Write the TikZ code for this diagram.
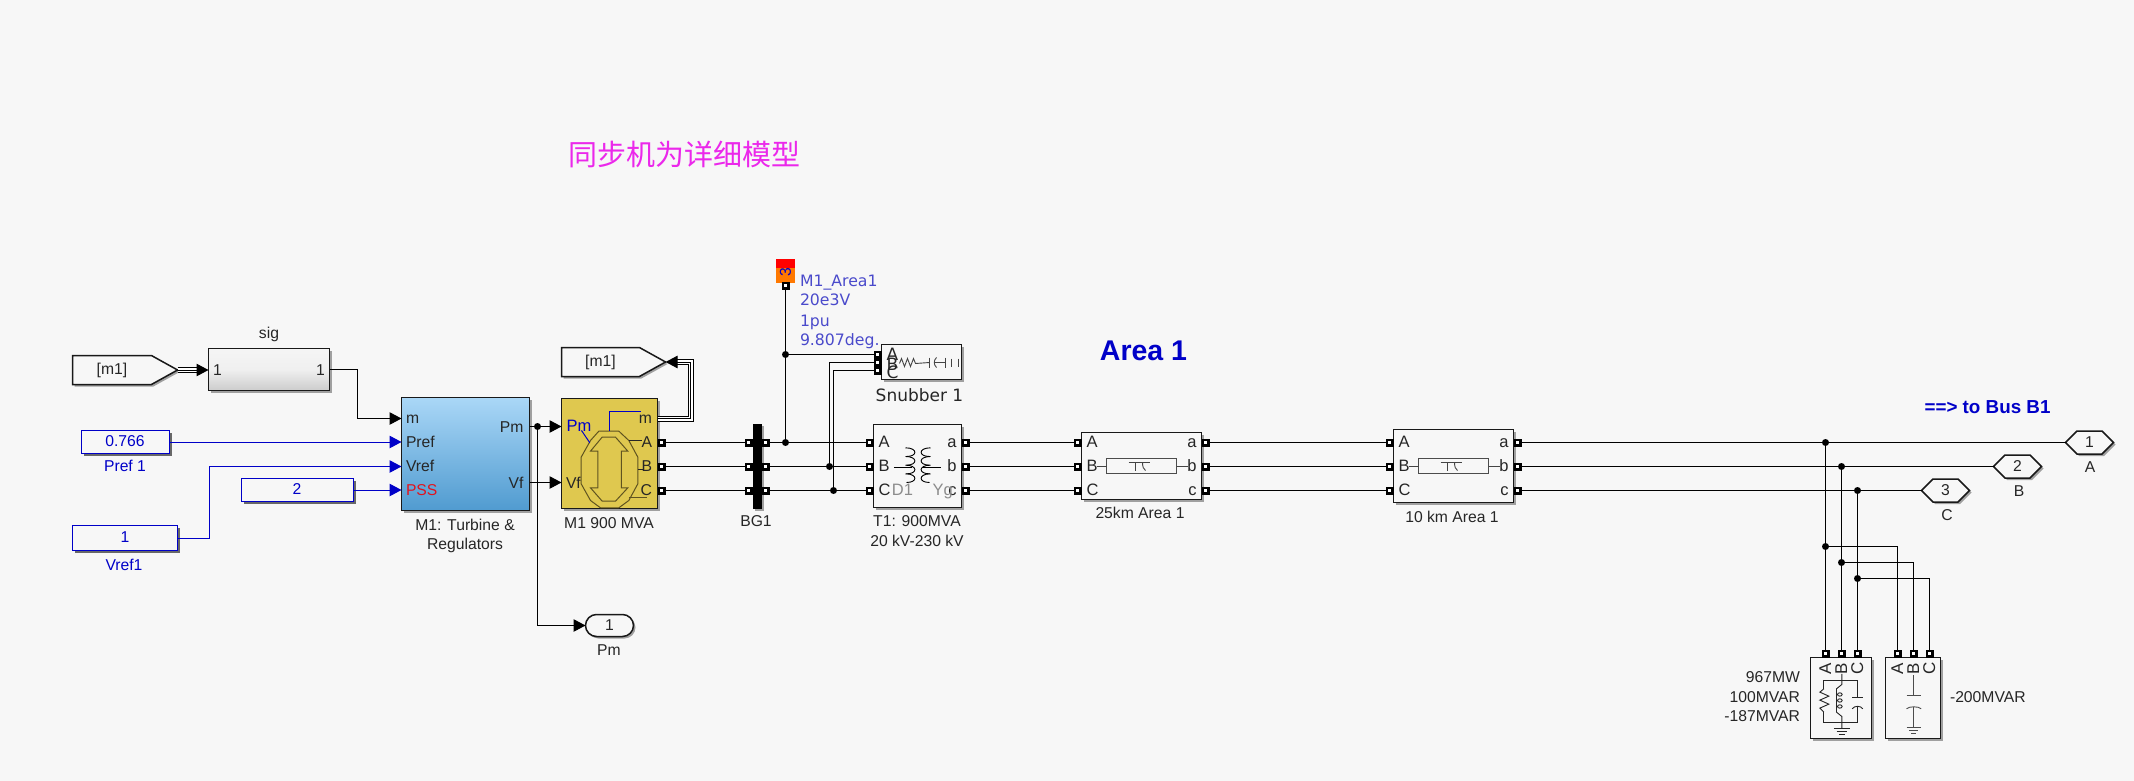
\documentclass[tikz,border=0pt]{standalone}
\usepackage{fontspec}
\setmainfont{Liberation Sans}
\newfontfamily\dvfont{DejaVu Sans}
\newfontfamily\cjkfont{Noto Sans CJK SC}
\usetikzlibrary{arrows.meta,shapes.symbols,shapes.misc,shadows}
\definecolor{bgc}{HTML}{F7F7F7}
\definecolor{txtc}{HTML}{262626}
\definecolor{blueline}{HTML}{0000C8}
\definecolor{meastxt}{HTML}{4A4ACB}
\definecolor{gold}{HTML}{DFC84F}
\definecolor{olive}{HTML}{5F5320}
\definecolor{icongray}{HTML}{444444}
\tikzset{
  x=1pt,y=-1pt,
  sh/.style={drop shadow={shadow xshift=2pt,shadow yshift=-2pt,fill=black,opacity=.35}},
  blockbox/.style={draw=black!90,line width=1.5pt,fill=bgc,inner sep=0pt,outer sep=0pt,sh},
  constbox/.style={blockbox,draw=blueline},
  txt/.style={inner sep=0pt,outer sep=0pt,text=txtc,font=\fontsize{15.7}{18}\selectfont,text height=11.2pt,text depth=0pt},
  bluetxt/.style={txt,text=blueline},
  lab/.style={txt,font=\fontsize{16.5}{18}\selectfont},
  meastext/.style={txt,anchor=west,text=meastxt,font=\dvfont\fontsize{15.7}{17}\selectfont},
  dvtxt/.style={txt,font=\dvfont\fontsize{17}{18}\selectfont},
  port/.style={rectangle,fill=black,minimum size=8pt,inner sep=0pt,outer sep=0pt,
     path picture={\fill[white] (-1.1pt,-1.1pt) rectangle (1.1pt,1.1pt);}},
  dot/.style={circle,fill=black,minimum size=7pt,inner sep=0pt,outer sep=0pt},
  wire/.style={draw=black,line width=1pt},
  sigarrow/.style={wire,-{Triangle[length=12pt,width=12.5pt]}},
  bluearrow/.style={draw=blueline,line width=1pt,-{Triangle[length=12pt,width=12.5pt]}},
  buswire/.style={draw=black,line width=6pt,postaction={draw=white,line width=4pt}},
  tag/.style={signal,draw=black!90,line width=1.5pt,fill=bgc,inner sep=0pt,outer sep=0pt,sh,text=txtc,font=\fontsize{15.7}{18}\selectfont},
  icon/.style={draw=icongray,line width=.9pt},
  oliveline/.style={draw=olive,line width=1pt},
}
\newcommand{\blk}[6][]{%
  \pgfmathsetmacro{\bcx}{(#3+#5)/2}\pgfmathsetmacro{\bcy}{(#4+#6)/2}%
  \pgfmathsetmacro{\bw}{#5-#3}\pgfmathsetmacro{\bh}{#6-#4}%
  \node[blockbox,minimum width=\bw pt,minimum height=\bh pt,#1] (#2) at (\bcx,\bcy) {};}
\newcommand{\prt}[3]{\node[port] (#1) at (#2,#3) {};}
\begin{document}
\begin{tikzpicture}
\useasboundingbox (0,0) rectangle (2134,781);
\fill[bgc] (0,0) rectangle (2134,781);
\begin{scope}[shift={(.5,.5)}]
% title texts
\node[inner sep=0pt,text={rgb,255:red,235;green,40;blue,235},font=\cjkfont\fontsize{29}{32}\selectfont] (title) at (683.5,153.5) {同步机为详细模型};
\node[inner sep=0pt,text=blueline,font=\bfseries\fontsize{28.5}{30}\selectfont] (area) at (1143,350) {Area 1};
\node[inner sep=0pt,text=blueline,font=\bfseries\fontsize{18.8}{20}\selectfont] (tobus) at (1987,407) {==> to Bus B1};

% ---------- left signal blocks
\node[tag,signal to=east,signal from=nowhere,signal pointer angle=58,minimum width=105pt,minimum height=29pt] (fromm) at (111.5,369.5) {[m1]};
\blk[top color=white!96!black,bottom color=black!20,middle color=black!6]{sig}{208}{348}{329}{390}
\node[txt] at (217,369.5) {1};
\node[txt] at (320,369.5) {1};
\node[txt] at (268.5,332.5) {sig};

\blk[constbox]{cA}{81}{430}{169}{453}
\node[bluetxt] at (124.5,440) {0.766};
\node[bluetxt] at (124.5,465.5) {Pref 1};
\blk[constbox]{cB}{241}{478}{353}{501}
\node[bluetxt] at (296.5,488) {2};
\blk[constbox]{cC}{72}{525}{177}{550}
\node[bluetxt] at (124.5,536.5) {1};
\node[bluetxt] at (123.5,564) {Vref1};

% turbine block
\blk[top color={rgb,255:red,170;green,215;blue,247},bottom color={rgb,255:red,80;green,155;blue,208}]{turb}{401}{397}{529}{510}
\node[txt,anchor=west] at (405.5,417.5) {m};
\node[txt,anchor=west] at (405.5,441.5) {Pref};
\node[txt,anchor=west] at (405.5,465.5) {Vref};
\node[txt,anchor=west,text={rgb,255:red,225;green,20;blue,30}] at (405.5,489.5) {PSS};
\node[txt,anchor=east] at (523,426) {Pm};
\node[txt,anchor=east] at (523,482) {Vf};
\node[txt] at (464.5,524.5) {M1: Turbine \&};
\node[txt] at (464.5,543.5) {Regulators};
\coordinate (tm) at (401,418);
\coordinate (tpref) at (401,441.5);
\coordinate (tvref) at (401,466);
\coordinate (tpss) at (401,489.5);
\coordinate (tpm) at (529,426);
\coordinate (tvf) at (529,482);

% generator
\blk[fill=gold]{gen}{561}{398}{657}{508}
\coordinate (genpm) at (561,426);
\coordinate (genvf) at (561,482);
\coordinate (genm) at (657,418);
\begin{scope}[shift={(540,380)},x=.3333pt,y=-.3333pt]
  \draw[oliveline] (175,152)--(235,152)--(265,180)--(292,230)--(292,310)--(265,360)--(235,382)--(180,382)--(150,360)--(122,310)--(122,230)--(150,180)--cycle;
  \draw[oliveline] (185,170)--(225,170)--(262,212)--(243,212)--(243,322)--(262,322)--(225,362)--(185,362)--(150,322)--(172,322)--(172,212)--(150,212)--cycle;
  \draw[oliveline,black!85] (265,180)--(305,180);
  \draw[oliveline,black!85] (292,266)--(308,266);
  \draw[oliveline] (265,352)--(320,352);
  \draw[draw=blueline,line width=1pt] (123,150)--(148,187);
  \draw[draw=blueline,line width=1pt] (208,152)--(208,94)--(302,94);
\end{scope}
\node[bluetxt,font=\fontsize{16.5}{18}\selectfont,anchor=west] at (566,425) {Pm};
\node[txt,anchor=west] at (565.5,482) {Vf};
\node[txt,anchor=east] at (651.5,417) {m};
\node[txt,anchor=east] at (651.5,441) {A};
\node[txt,anchor=east] at (651.5,465) {B};
\node[txt,anchor=east] at (651.5,489) {C};
\node[txt] at (608.5,522) {M1 900 MVA};
\prt{gA}{661}{442}\prt{gB}{661}{466}\prt{gC}{661}{490}

\node[tag,signal to=east,signal from=nowhere,signal pointer angle=58,minimum width=104pt,minimum height=29pt] (gotom) at (600,361.5) {[m1]};

% busbar BG1
\node[rectangle,fill=black,minimum width=9pt,minimum height=85pt,inner sep=0pt,outer sep=0pt,sh] (bg) at (756.5,465.5) {};
\prt{bLA}{748}{442}\prt{bLB}{748}{466}\prt{bLC}{748}{490}
\prt{bRA}{765}{442}\prt{bRB}{765}{466}\prt{bRC}{765}{490}
\node[txt] at (755.5,520.5) {BG1};

% measurement block
\node[rectangle,fill={rgb,255:red,255;green,120;blue,0},minimum width=19pt,minimum height=24pt,inner sep=0pt,outer sep=0pt] (meas) at (784.5,270) {};
\fill[red] (775,258) rectangle (794,267);
\node[text=blueline,inner sep=0pt,rotate=90,font=\fontsize{15.7}{16}\selectfont] at (785,272) {3};
\prt{mp}{785}{285}
\node[meastext] at (799.5,280.5) {M1\_Area1};
\node[meastext] at (799.5,299.5) {20e3V};
\node[meastext] at (799.5,320) {1pu};
\node[meastext] at (799.5,339.5) {9.807deg.};

% snubber
\blk{snub}{881}{344}{961}{379}
\prt{sA}{877}{354}\prt{sB}{877}{362}\prt{sC}{877}{370}
\node[dvtxt] at (892,354) {A};
\node[dvtxt] at (892,364) {B};
\node[dvtxt] at (892,372) {C};
\draw[icon] (899,363)--(901,358)--(904,366)--(907,358)--(910,366)--(913,358)--(915,363)--(929,362);
\draw[icon] (929,357)--(929,367);
\draw[icon] (936,357) .. controls (933,360) and (933,364) .. (936,367);
\draw[icon] (934,362)--(945,362);
\draw[icon] (945,357)--(945,367);
\draw[icon] (951,358)--(951,366);
\draw[icon] (958,358)--(958,366);
\node[dvtxt] at (919,395) {Snubber 1};

% transformer
\blk{tr}{873}{424}{961}{507}
\prt{tLA}{869}{442}\prt{tLB}{869}{466}\prt{tLC}{869}{490}
\prt{tRA}{965}{442}\prt{tRB}{965}{466}\prt{tRC}{965}{490}
\node[lab,anchor=west] at (878,441) {A};
\node[lab,anchor=west] at (878,465) {B};
\node[lab,anchor=west] at (878,489) {C};
\node[lab,anchor=east] at (956,441) {a};
\node[lab,anchor=east] at (956,465) {b};
\node[lab,anchor=east] at (956,489) {c};
\node[lab,text=black!45] at (902,489) {D1};
\node[lab,text=black!45,anchor=west] at (932,489) {Yg};
\begin{scope}[shift={(870,420)},x=.3333pt,y=-.3333pt]
  \draw[icon,black] (70,140)--(125,140);
  \draw[icon,black] (155,140)--(212,140);
  \foreach \i in {0,1,2,3} {
    \pgfmathsetmacro{\ya}{82+\i*26}\pgfmathsetmacro{\yb}{82+(\i+1)*26}
    \draw[icon,black] (105,\ya) .. controls (142,\ya) and (142,\yb) .. (108,\yb);
    \draw[icon,black] (180,\ya) .. controls (143,\ya) and (143,\yb) .. (177,\yb);
  }
\end{scope}
\node[txt] at (916.5,520.5) {T1: 900MVA};
\node[txt] at (916.5,540.5) {20 kV-230 kV};

% lines
\blk{la}{1081}{432}{1201}{499}
\prt{laLA}{1077}{442}\prt{laLB}{1077}{466}\prt{laLC}{1077}{490}
\prt{laRA}{1205}{442}\prt{laRB}{1205}{466}\prt{laRC}{1205}{490}
\node[lab,anchor=west] at (1086,441.5) {A};
\node[lab,anchor=west] at (1086,465.5) {B};
\node[lab,anchor=west] at (1086,489) {C};
\node[lab,anchor=east] at (1196,441.5) {a};
\node[lab,anchor=east] at (1196,465.5) {b};
\node[lab,anchor=east] at (1196,489) {c};
\draw[icon,black!70,line width=1.2pt] (1106,458) rectangle (1176,473);
\draw[icon] (1096,466)--(1106,466) (1176,466)--(1187,466);
\draw[icon] (1128,462)--(1149,462) (1135,462)--(1135,470);
\draw[icon] (1142,462) .. controls (1142,466) and (1143,469) .. (1145,470);
\node[txt] at (1139.5,512.5) {25km Area 1};

\blk{lb}{1393}{429}{1513}{502}
\prt{lbLA}{1389}{442}\prt{lbLB}{1389}{466}\prt{lbLC}{1389}{490}
\prt{lbRA}{1517}{442}\prt{lbRB}{1517}{466}\prt{lbRC}{1517}{490}
\node[lab,anchor=west] at (1398,441.5) {A};
\node[lab,anchor=west] at (1398,465.5) {B};
\node[lab,anchor=west] at (1398,489) {C};
\node[lab,anchor=east] at (1508,441.5) {a};
\node[lab,anchor=east] at (1508,465.5) {b};
\node[lab,anchor=east] at (1508,489) {c};
\draw[icon,black!70,line width=1.2pt] (1418,458) rectangle (1488,473);
\draw[icon] (1408,466)--(1418,466) (1488,466)--(1499,466);
\draw[icon] (1440,462)--(1461,462) (1447,462)--(1447,470);
\draw[icon] (1454,462) .. controls (1454,466) and (1455,469) .. (1457,470);
\node[txt] at (1451.5,516.5) {10 km Area 1};

% output ports
\node[tag,signal to=west and east,signal pointer angle=90,minimum width=48pt,minimum height=23pt] (outA) at (2089,442) {1};
\node[txt] at (2089.5,466.5) {A};
\node[tag,signal to=west and east,signal pointer angle=90,minimum width=48pt,minimum height=23pt] (outB) at (2017,466) {2};
\node[txt] at (2018.5,490.5) {B};
\node[tag,signal to=west and east,signal pointer angle=90,minimum width=48pt,minimum height=23pt] (outC) at (1945,490) {3};
\node[txt] at (1946.5,514.5) {C};
\node[rounded rectangle,draw=black!90,line width=1.5pt,fill=bgc,minimum width=48pt,minimum height=22pt,inner sep=0pt,outer sep=0pt,sh,text=txtc,font=\fontsize{15.7}{18}\selectfont] (outP) at (609,625) {1};
\node[txt] at (608.5,649.5) {Pm};

% loads
\blk{ld}{1810}{657}{1871}{738}
\prt{ldA}{1825}{653}\prt{ldB}{1841}{653}\prt{ldC}{1857}{653}
\blk{cp}{1885}{657}{1940}{738}
\prt{cpA}{1897}{653}\prt{cpB}{1913}{653}\prt{cpC}{1929}{653}
\foreach \n/\x in {A/1825,B/1841,C/1857,A/1897,B/1913,C/1929}
  \node[txt,rotate=90,font=\fontsize{17}{18}\selectfont] at (\x,668) {\n};
\begin{scope}[shift={(1700,380)},x=.3333pt,y=-.3333pt]
  \draw[icon,black!85] (424,880)--(424,912)--(408,925)--(408,995)--(424,1008)--(424,1045);
  \draw[icon,black!85] (400,1045)--(448,1045) (408,1053)--(440,1053) (415,1061)--(433,1061);
  \draw[icon,black!85] (370,925)--(370,900)--(472,900)--(472,950);
  \draw[icon,black!85] (370,995)--(370,1025)--(472,1025)--(472,978);
  \draw[icon,black!85] (370,925)--(358,935)--(385,947)--(358,959)--(385,971)--(358,983)--(370,995);
  \foreach \yy in {942,960,978} \draw[icon,black!85] (418,\yy) ellipse [x radius=7,y radius=5];
  \draw[icon,black!85] (455,950)--(487,950);
  \draw[icon,black!85] (455,985) .. controls (462,975) and (480,975) .. (487,985);
  \draw[icon,black!70] (640,885)--(640,945) (618,945)--(662,945);
  \draw[icon,black!70] (618,985) .. controls (625,977) and (655,977) .. (662,985);
  \draw[icon,black!70] (640,980)--(640,1040);
  \draw[icon,black!70] (618,1042)--(662,1042) (626,1050)--(654,1050) (632,1058)--(648,1058);
\end{scope}
\node[txt,anchor=east] at (1799.5,676.5) {967MW};
\node[txt,anchor=east] at (1799.5,696.5) {100MVAR};
\node[txt,anchor=east] at (1799.5,715.5) {-187MVAR};
\node[txt,anchor=west] at (1949.5,696.5) {-200MVAR};

% junction dots
\node[dot] (dm) at (537,426) {};
\node[dot] (d1) at (785,442) {};
\node[dot] (d2) at (785,354) {};
\node[dot] (d3) at (829,466) {};
\node[dot] (d4) at (833,490) {};
\node[dot] (e1) at (1825,442) {};
\node[dot] (e2) at (1841,466) {};
\node[dot] (e3) at (1857,490) {};
\node[dot] (f1) at (1825,546) {};
\node[dot] (f2) at (1841,562) {};
\node[dot] (f3) at (1857,578) {};

% connectors
\draw[buswire,shorten >=10pt] (fromm.east) -- (sig.west |- fromm.east);
\draw[sigarrow] (fromm.east) -- (sig.west |- fromm.east);
\draw[sigarrow] (sig.east) -- ++(28,0) |- (tm);
\draw[bluearrow] (cA.east) -- (tpref);
\draw[bluearrow] (cB.east) -- (tpss);
\draw[bluearrow] (cC.east) -- ++(32,0) |- (tvref);
\draw[wire] (tpm) -- (dm);
\draw[sigarrow] (dm) -- (genpm);
\draw[sigarrow] (tvf) -- (genvf);
\draw[sigarrow] (dm) |- (outP.west);
\draw[buswire,shorten >=10pt] (genm) -- ++(33,0) |- (gotom.east);
\draw[sigarrow] (genm) -- ++(33,0) |- (gotom.east);
\foreach \p in {A,B,C} {
  \draw[wire] (g\p) -- (bL\p);
  \draw[wire] (bR\p) -- (tL\p);
  \draw[wire] (tR\p) -- (laL\p);
  \draw[wire] (laR\p) -- (lbL\p);
}
\draw[wire] (mp) -- (d2);
\draw[wire] (d2) -- (d1);
\draw[wire] (d2) -- (sA);
\draw[wire] (sB) -| (d3);
\draw[wire] (sC) -| (d4);
\draw[wire] (lbRA) -- (e1);
\draw[wire] (lbRB) -- (e2);
\draw[wire] (lbRC) -- (e3);
\draw[wire] (e1) -- (outA.west);
\draw[wire] (e2) -- (outB.west);
\draw[wire] (e3) -- (outC.west);
\draw[wire] (e1) -- (f1);
\draw[wire] (e2) -- (f2);
\draw[wire] (e3) -- (f3);
\draw[wire] (f1) -- (ldA);
\draw[wire] (f2) -- (ldB);
\draw[wire] (f3) -- (ldC);
\draw[wire] (f1) -| (cpA);
\draw[wire] (f2) -| (cpB);
\draw[wire] (f3) -| (cpC);
\end{scope}
\end{tikzpicture}
\end{document}
